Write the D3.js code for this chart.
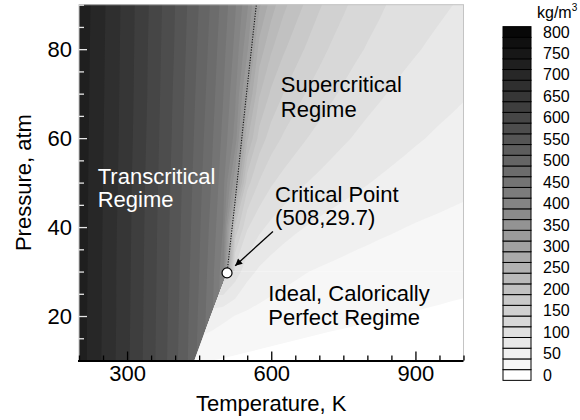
<!DOCTYPE html>
<html lang="en">
<head>
<meta charset="utf-8">
<title>Density regimes</title>
<script src="https://d3js.org/d3.v7.min.js"></script>
<style>
  body { margin: 0; background: white; font-family: "Liberation Sans", Arial, Helvetica, sans-serif; }
  .tick text { font-size: 22px; fill: #000; }
  .ann { font-size: 22px; }
  .leg { font-size: 16px; }
</style>
</head>
<body>
<div id="chart"></div>
<script>
// grid nodes (K, atm)
var temps = [200,225,250,275,300,325,350,375,400,425,450,475,500,525,550,575,600,625,650,675,700,725,750,775,800,825,850,875,900,925,950,975,1000];
var pressures = [10,20,30,40,50,60,70,80,90];

// density kg/m3, liquid / supercritical side, one row per pressure
var rho10 = [739,718,697,676,655,632,609,584,557,527,492,452,23.3,21.7,20.5,19.4,18.4,17.6,16.8,16.1,15.5,14.9,14.4,13.9,13.4,13.0,12.6,12.2,11.8,11.5,11.2,10.9,10.6];
var rho20 = [739,718,698,677,656,633,610,585,559,529,496,457,405,350,44.9,41.7,38.9,36.7,34.7,33.1,31.6,30.3,29.2,28.1,27.1,26.2,25.3,24.6,23.8,23.1,22.5,21.8,21.3];
var rho30 = [740,719,698,677,657,634,611,587,561,532,500,462,410,115,84,71,63.5,58,54,50.5,47.8,45.5,43.4,41.5,39.8,38.3,36.9,35.6,34.4,33.3,32.3,31.4,30.6];
var rho40 = [740,720,699,678,658,635,612,588,563,535,504,468,424,196,128,106,94,85.5,79,74,69.5,66,62.5,59.5,57,54.5,52.5,50.5,48.5,47,45.5,44,42.7];
var rho50 = [741,720,700,680,659,636,614,590,565,538,508,475,434,330,185,148,128,116,107,100,94,88.5,84,80,76,72.5,69.5,66.5,64,61.5,59.5,57.5,55.5];
var rho60 = [742,721,701,681,661,638,616,592,568,541,512,481,443,390,255,190,163,147,135,125,117,110,103.5,98,93,88.5,84.5,81,77.5,74.5,71.5,69,66.5];
var rho70 = [743,722,702,682,662,640,618,594,570,544,516,487,451,405,310,228,195,175,160,148,138,129,121,114,108,103,98,94,90,86.5,83,80,77];
var rho80 = [744,723,703,683,663,641,619,596,573,547,520,492,458,418,355,265,228,204,186,171,158,147,138,130,123,117,111,106,102,98,94.5,91,88];
var rho90 = [745,724,704,684,664,642,621,598,575,550,524,497,465,428,380,305,262,232,212,194,178,165,154,144,136,129,122,117,112,108,104,100.5,97];

// vapour side below the critical pressure
var vap10 = [56,53,50,47,44,41,38,35,32,29.4,27.1,25.1,23.3,21.7,20.5,19.4,18.4,17.6,16.8,16.1,15.5,14.9,14.4,13.9,13.4,13.0,12.6,12.2,11.8,11.5,11.2,10.9,10.6];
var vap20 = [130,124,118,112,106,100,94,88,82,76,70,63,55.3,49.4,44.9,41.7,38.9,36.7,34.7,33.1,31.6,30.3,29.2,28.1,27.1,26.2,25.3,24.6,23.8,23.1,22.5,21.8,21.3];
var vap30 = [150,150,150,150,150,150,150,150,150,150,150,140,150,115,84,71,63.5,58,54,50.5,47.8,45.5,43.4,41.5,39.8,38.3,36.9,35.6,34.4,33.3,32.3,31.4,30.6];

// saturation curve and pseudo-critical line
var satT = [440, 474, 508];
var satP = [10, 20, 29.7];
var widomT = [508, 525, 547, 569];
var widomP = [29.7, 46, 68.5, 90];
var critT = 508, critP = 29.7;

var levels = [0,25,50,75,100,125,150,175,200,225,250,275,300,325,350,375,400,425,450,475,500,525,550,575,600,625,650,675,700,725,750,775,800];
var legendTicks = [0,50,100,150,200,250,300,350,400,450,500,550,600,650,700,750,800];
var xMajor = [300, 600, 900];
var xMinor = [200,250,350,400,450,500,550,650,700,750,800,850,950,1000];
var yMajor = [20, 40, 60, 80];
var yMinor = [10,15,25,30,35,45,50,55,65,70,75,85,90];

var width = 580, height = 420;

var svg = d3.select("#chart").append("svg")
    .attr("width", width)
    .attr("height", height);

var x = d3.scaleLinear().domain([200, 1000]).range([79, 463.5]);
var y = d3.scaleLinear().domain([10, 90]).range([360.5, 4.7]);
var gray = d3.scaleLinear().domain([0, 800]).range(["#ffffff", "#080808"]);

var defs = svg.append("defs");
defs.append("clipPath").attr("id", "plotClip")
    .append("rect")
    .attr("x", x(200)).attr("y", y(90))
    .attr("width", x(1000) - x(200)).attr("height", y(10) - y(90));

// vapour region: right of the saturation curve, below Pc
var vapPts = satT.map(function(t, i) { return [t, satP[i]]; });
vapPts.push([critT, 30], [1010, 30], [1010, 5], [satT[0], 5]);
defs.append("clipPath").attr("id", "vapClip")
    .append("path")
    .attr("d", d3.line().x(function(d) { return x(d[0]); }).y(function(d) { return y(d[1]); })(vapPts) + "Z");

// contour grid -> pixels (d3.contours puts value i at i + 0.5)
var dT = temps[1] - temps[0], dP = pressures[1] - pressures[0];
var gridPath = d3.geoPath(d3.geoTransform({
    point: function(u, v) {
        this.stream.point(x(temps[0] + (u - 0.5) * dT), y(pressures[0] + (v - 0.5) * dP));
    }
}));

var dense = [].concat(rho10, rho20, rho30, rho40, rho50, rho60, rho70, rho80, rho90);
var vapour = [].concat(vap10, vap20, vap30);

var plot = svg.append("g").attr("clip-path", "url(#plotClip)");

plot.append("g").selectAll("path")
    .data(d3.contours().size([temps.length, 9]).thresholds(levels)(dense))
    .join("path")
    .attr("d", gridPath)
    .attr("fill", function(d) { return gray(d.value); });

plot.append("g").attr("clip-path", "url(#vapClip)").selectAll("path")
    .data(d3.contours().size([temps.length, 3]).thresholds(levels)(vapour))
    .join("path")
    .attr("d", gridPath)
    .attr("fill", function(d) { return gray(d.value); });

// pseudo-critical line
plot.append("path")
    .datum(widomT.map(function(t, i) { return [t, widomP[i]]; }))
    .attr("d", d3.line().x(function(d) { return x(d[0]); }).y(function(d) { return y(d[1]); }))
    .attr("fill", "none")
    .attr("stroke", "#111")
    .attr("stroke-width", 1.1)
    .attr("stroke-dasharray", "1.2,1.4");

// frame
svg.append("rect")
    .attr("x", x(200)).attr("y", y(90))
    .attr("width", x(1000) - x(200)).attr("height", y(10) - y(90))
    .attr("fill", "none").attr("stroke", "#c4c4c4").attr("stroke-width", 1);

// axes
function drawX(vals, size, fmt) {
    var g = svg.append("g").attr("transform", "translate(0," + y(10) + ")")
        .call(d3.axisBottom(x).tickValues(vals).tickSize(size).tickPadding(5).tickFormat(fmt));
    g.select(".domain").remove();
    g.selectAll("line").attr("stroke", "#000").attr("stroke-width", 1.3);
    g.selectAll("text").attr("font-family", "Liberation Sans, Arial, sans-serif");
}
drawX(xMinor, -5, "");
drawX(xMajor, -9, d3.format("d"));

function drawY(vals, size, fmt) {
    var g = svg.append("g").attr("transform", "translate(" + x(200) + ",0)")
        .call(d3.axisLeft(y).tickValues(vals).tickSize(size).tickPadding(7).tickFormat(fmt));
    g.select(".domain").remove();
    g.selectAll("line").attr("stroke", "#e6e6e6").attr("stroke-width", 1.3);
    g.selectAll("text").attr("font-family", "Liberation Sans, Arial, sans-serif");
}
drawY(yMinor, -5, "");
drawY(yMajor, -8, d3.format("d"));

svg.append("line")
    .attr("x1", x(200) - 1).attr("x2", x(1000))
    .attr("y1", y(10) + 0.5).attr("y2", y(10) + 0.5)
    .attr("stroke", "#000").attr("stroke-width", 2);

svg.append("text")
    .attr("class", "ann")
    .attr("x", (x(200) + x(1000)) / 2).attr("y", 411)
    .attr("text-anchor", "middle")
    .text("Temperature, K");

svg.append("text")
    .attr("class", "ann")
    .attr("transform", "translate(31," + (y(10) + y(90)) / 2 + ") rotate(-90)")
    .attr("text-anchor", "middle")
    .text("Pressure, atm");

// annotations
var notes = [
    {t: 239, p: 49.75, lines: ["Transcritical", "Regime"], gap: 23.4, color: "#fff"},
    {t: 620, p: 70.26, lines: ["Supercritical", "Regime"], gap: 24.5, color: "#000"},
    {t: 608, p: 45.7, lines: ["Critical Point", "(508,29.7)"], gap: 23.5, color: "#000"},
    {t: 594, p: 23.48, lines: ["Ideal, Calorically", "Perfect Regime"], gap: 24.5, color: "#000"}
];
notes.forEach(function(n) {
    var tx = svg.append("text").attr("class", "ann").attr("fill", n.color);
    n.lines.forEach(function(s, i) {
        tx.append("tspan").attr("x", x(n.t)).attr("y", y(n.p) + i * n.gap).text(s);
    });
});

defs.append("marker")
    .attr("id", "head")
    .attr("viewBox", "0 0 10 10")
    .attr("refX", 10).attr("refY", 5)
    .attr("markerWidth", 9).attr("markerHeight", 7)
    .attr("markerUnits", "userSpaceOnUse")
    .attr("orient", "auto")
    .append("path").attr("d", "M0,0L10,5L0,10Z").attr("fill", "#000");

svg.append("line")
    .attr("x1", x(603.5)).attr("y1", y(39))
    .attr("x2", x(525)).attr("y2", y(31.3))
    .attr("stroke", "#000").attr("stroke-width", 1.3)
    .attr("marker-end", "url(#head)");

svg.append("circle")
    .attr("cx", x(critT)).attr("cy", y(critP))
    .attr("r", 5)
    .attr("fill", "#fff").attr("stroke", "#000").attr("stroke-width", 1.2);

// legend
var lg = d3.scaleLinear().domain([0, 800]).range([375, 32]);
var boxH = lg(0) - lg(25);
svg.append("g").selectAll("rect")
    .data(levels)
    .join("rect")
    .attr("x", 503).attr("width", 28)
    .attr("y", function(d) { return lg(d) - boxH / 2; })
    .attr("height", boxH)
    .attr("fill", function(d) { return gray(d); })
    .attr("stroke", "#000").attr("stroke-width", 1);

svg.append("g").selectAll("text")
    .data(legendTicks)
    .join("text")
    .attr("class", "leg")
    .attr("x", 543).attr("y", function(d) { return lg(d); })
    .attr("dy", "0.35em")
    .text(function(d) { return d; });

var unit = svg.append("text").attr("class", "leg").attr("x", 537).attr("y", 18).text("kg/m");
unit.append("tspan").attr("dy", -7).attr("font-size", "10px").text("3");
</script>
</body>
</html>
